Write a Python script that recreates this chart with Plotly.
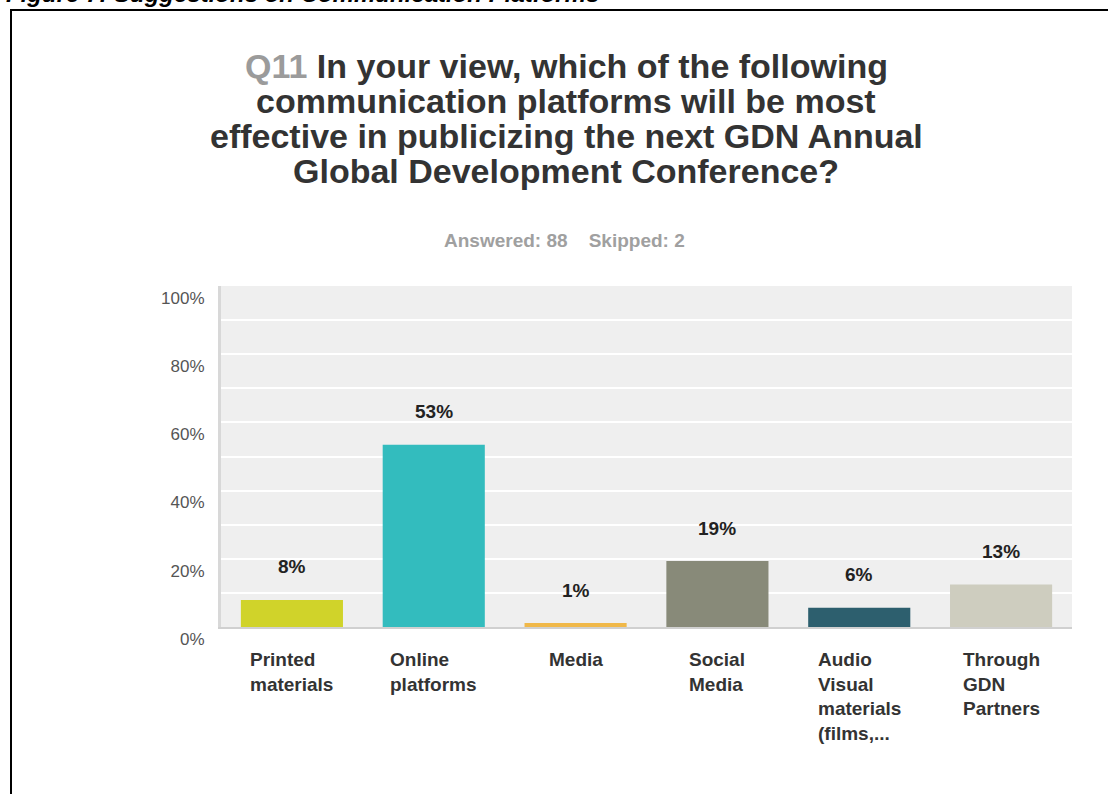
import plotly.graph_objects as go

# ---- data ----
categories = ["Printed materials", "Online platforms", "Media", "Social Media",
              "Audio Visual materials (films,...", "Through GDN Partners"]
tick_texts = ["Printed<br>materials", "Online<br>platforms", "Media", "Social<br>Media",
              "Audio<br>Visual<br>materials<br>(films,...", "Through<br>GDN<br>Partners"]
values = [7.95, 53.41, 1.14, 19.32, 5.68, 12.5]
value_labels = ["8%", "53%", "1%", "19%", "6%", "13%"]
colors = ["#d0d32a", "#33bcbe", "#f0b849", "#888a79", "#2d5f6e", "#cecdbf"]
y_ticks = [0, 20, 40, 60, 80, 100]
y_tick_labels = ["0%", "20%", "40%", "60%", "80%", "100%"]
title_lines = ['<span style="color:#9b9b9b">Q11</span> In your view, which of the following',
               "communication platforms will be most",
               "effective in publicizing the next GDN Annual",
               "Global Development Conference?"]
subtitle = "Answered: 88\u00a0\u00a0\u00a0\u00a0Skipped: 2"
caption = "Figure 7: Suggestions on Communication Platforms"

W, H = 1108, 794
L, R, T, B = 221, 36, 286, 167
PW, PH = W - L - R, H - T - B
FONT = "Liberation Sans, Arial, Helvetica, sans-serif"


def px_x(px):
    return (px - L) / PW


def px_y(py):
    return (H - B - py) / PH


fig = go.Figure()
fig.add_trace(go.Bar(x=categories, y=values, marker=dict(color=colors, line=dict(width=0)),
                     hoverinfo="skip"))

annotations = []
# caption at very top (cut off)
annotations.append(dict(text="<b><i>" + caption + "</i></b>", xref="paper", yref="paper",
                        x=px_x(4), y=px_y(-7), xanchor="left", yanchor="middle", showarrow=False,
                        font=dict(family=FONT, size=24, color="#000000")))
# title lines
title_y = [66, 101, 136, 171]
for t, ty in zip(title_lines, title_y):
    annotations.append(dict(text="<b>" + t + "</b>", xref="paper", yref="paper",
                            x=px_x(566), y=px_y(ty), xanchor="center", yanchor="middle",
                            showarrow=False, font=dict(family=FONT, size=34, color="#333333")))
annotations.append(dict(text="<b>" + subtitle + "</b>", xref="paper", yref="paper",
                        x=px_x(564), y=px_y(241), xanchor="center", yanchor="middle",
                        showarrow=False, font=dict(family=FONT, size=19, color="#a0a0a0")))
# value labels
for c, v, lab in zip(categories, values, value_labels):
    annotations.append(dict(text="<b>" + lab + "</b>", x=c, y=v, xref="x", yref="y",
                            yshift=33, xanchor="center", yanchor="middle", showarrow=False,
                            font=dict(family=FONT, size=19, color="#222222")))
# category labels
for c, t in zip(categories, tick_texts):
    annotations.append(dict(text="<b>" + t + "</b>", x=c, xref="x", yref="paper", y=px_y(647),
                            xanchor="center", yanchor="top", align="left", showarrow=False,
                            font=dict(family=FONT, size=19, color="#333333")))

fig.update_layout(
    width=W, height=H,
    margin=dict(l=L, r=R, t=T, b=B, pad=0),
    paper_bgcolor="white", plot_bgcolor="#efefef",
    bargap=0.28, showlegend=False,
    annotations=annotations,
    shapes=[dict(type="rect", xref="paper", yref="paper",
                 x0=px_x(11), x1=1.2, y0=-1, y1=px_y(10),
                 line=dict(color="black", width=2), fillcolor="rgba(0,0,0,0)", layer="above")],
    xaxis=dict(showticklabels=False, showgrid=False, showline=True, linecolor="#d0d0d0",
               linewidth=2, ticks="", fixedrange=True),
    yaxis=dict(range=[0, 100], tickmode="array", tickvals=y_ticks, ticktext=y_tick_labels,
               showgrid=True, gridcolor="white", gridwidth=2, zeroline=False,
               minor=dict(dtick=10, showgrid=True, gridcolor="white", gridwidth=2),
               showline=True, linecolor="#d8d8d8", linewidth=3, ticks="",
               ticklabelposition="outside bottom", ticklabelstandoff=10,
               tickfont=dict(family=FONT, size=17, color="#555555")),
)

fig.write_html("out.html")
